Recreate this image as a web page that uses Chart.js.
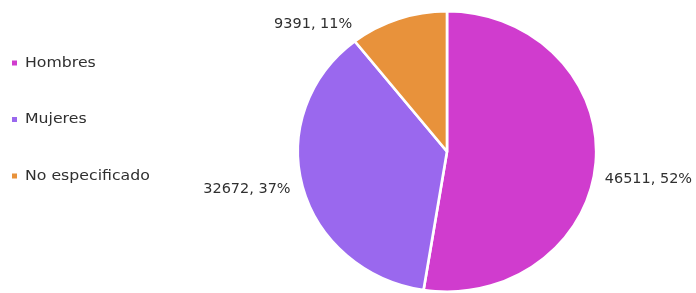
<!DOCTYPE html>
<html>
<head>
<meta charset="utf-8">
<script src="https://cdn.jsdelivr.net/npm/chart.js@4/dist/chart.umd.min.js"></script>
<style>
html,body{margin:0;padding:0;background:#fff;}
#wrap{position:relative;width:696px;height:293px;overflow:hidden;}
</style>
</head>
<body>
<div id="wrap"><canvas id="c" width="696" height="293"></canvas></div>
<script>
const categories = ["Hombres", "Mujeres", "No especificado"];
const values = [46511, 32672, 9391];
const percentLabels = [52, 37, 11];
const colors = ["#D03CCE", "#9A68EE", "#E8923B"];

const X_STRETCH = 150 / 141;
const TEXT_COLOR = "#303030";

const stretchPlugin = {
  id: "stretch",
  beforeDatasetsDraw(chart) {
    const a = chart.getDatasetMeta(0).data[0];
    const ctx = chart.ctx;
    ctx.save();
    ctx.translate(a.x, a.y);
    ctx.scale(X_STRETCH, 1);
    ctx.translate(-a.x, -a.y);
  },
  afterDatasetsDraw(chart) {
    chart.ctx.restore();
  }
};

const labelNudge = [
  {dx: 9, dy: 17, align: "left"},
  {dx: -12, dy: 3, align: "right"},
  {dx: -46, dy: 6, align: "right"}
];

function drawStretchedText(ctx, text, x, y, align) {
  ctx.save();
  ctx.translate(x, y);
  ctx.scale(X_STRETCH, 1);
  ctx.textAlign = align;
  ctx.textBaseline = "middle";
  ctx.fillText(text, 0, 0);
  ctx.restore();
}

const labelPlugin = {
  id: "sliceLabels",
  afterDraw(chart) {
    const ctx = chart.ctx;
    const meta = chart.getDatasetMeta(0);
    const ds = chart.data.datasets[0];
    ctx.save();
    ctx.fillStyle = TEXT_COLOR;
    ctx.font = "13.6px 'DejaVu Sans'";
    meta.data.forEach((arc, i) => {
      const mid = (arc.startAngle + arc.endAngle) / 2;
      const ax = arc.x + Math.cos(mid) * arc.outerRadius * X_STRETCH;
      const ay = arc.y + Math.sin(mid) * arc.outerRadius;
      const n = labelNudge[i];
      drawStretchedText(ctx, ds.data[i] + ", " + percentLabels[i] + "%", ax + n.dx, ay + n.dy, n.align);
    });
    // legend
    ctx.font = "14.8px 'DejaVu Sans'";
    chart.data.labels.forEach((lab, i) => {
      const y = 63 + i * 56.5;
      ctx.fillStyle = ds.backgroundColor[i];
      ctx.fillRect(12, y - 2.5, 5, 5);
      ctx.fillStyle = TEXT_COLOR;
      drawStretchedText(ctx, lab, 25, y, "left");
    });
    ctx.restore();
  }
};

new Chart(document.getElementById("c"), {
  type: "pie",
  data: {
    labels: categories,
    datasets: [{
      data: values,
      backgroundColor: colors,
      borderColor: "#ffffff",
      borderWidth: 2.5,
      hoverOffset: 0,
      offset: 0
    }]
  },
  options: {
    responsive: false,
    animation: false,
    layout: {padding: {left: 305, right: 107, top: 10, bottom: -2}},
    plugins: {legend: {display: false}, tooltip: {enabled: false}}
  },
  plugins: [stretchPlugin, labelPlugin]
});
</script>
</body>
</html>
